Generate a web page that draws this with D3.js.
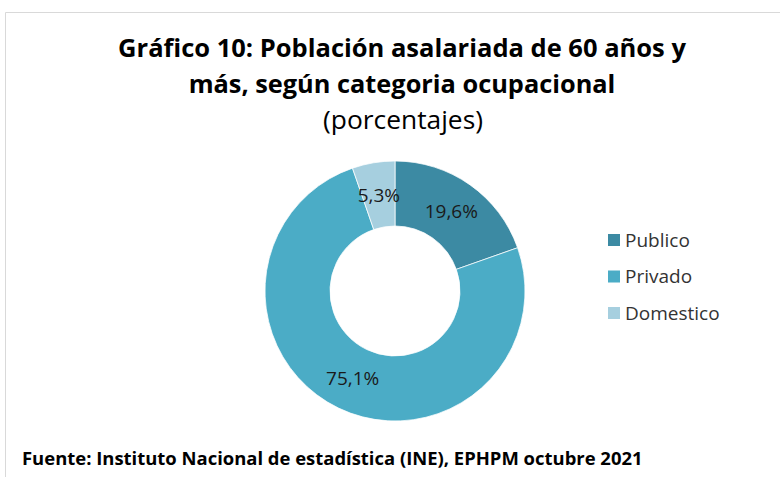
<!DOCTYPE html>
<meta charset="utf-8">
<script src="https://d3js.org/d3.v7.min.js"></script>
<style>
  body { margin: 0; background: #fff; }
  text { font-family: "Open Sans", Lato, sans-serif; }
</style>
<div id="chart"></div>
<script>
  // data
  var categories = ["Publico", "Privado", "Domestico"];
  var values = [19.6, 75.1, 5.3];
  var colors = ["#3c8aa3", "#4bacc6", "#a6cfdf"];

  var W = 780, H = 477;
  var svg = d3.select("#chart").append("svg")
    .attr("width", W).attr("height", H);

  // scale a text's font so it spans the given width
  function fit(sel, w) {
    var size = +sel.attr("font-size");
    var len = sel.node().getComputedTextLength();
    sel.attr("font-size", size * w / len);
    return sel;
  }

  // light frame
  svg.append("path")
    .attr("d", "M5.5," + H + "V12.5H" + W)
    .attr("fill", "none").attr("stroke", "#d9d9d9").attr("stroke-width", 1);

  // titles
  fit(svg.append("text").attr("x", 402).attr("y", 57)
    .attr("text-anchor", "middle").attr("font-weight", "bold")
    .attr("font-size", 24).attr("fill", "#000")
    .text("Gráfico 10: Población asalariada de 60 años y"), 568);
  fit(svg.append("text").attr("x", 402).attr("y", 93)
    .attr("text-anchor", "middle").attr("font-weight", "bold")
    .attr("font-size", 24).attr("fill", "#000")
    .text("más, según categoria ocupacional"), 427);
  fit(svg.append("text").attr("x", 403).attr("y", 129)
    .attr("text-anchor", "middle")
    .attr("font-size", 22).attr("fill", "#000")
    .text("(porcentajes)"), 160);

  // donut
  var cx = 395, cy = 291, rOut = 130, rIn = 65;
  var pie = d3.pie().sort(null).value(function (d) { return d; });
  var arc = d3.arc().innerRadius(rIn).outerRadius(rOut);
  var arcs = pie(values);

  var g = svg.append("g").attr("transform", "translate(" + cx + "," + cy + ")");
  g.selectAll("path.slice").data(arcs).enter().append("path")
    .attr("class", "slice")
    .attr("d", arc)
    .attr("fill", function (d, i) { return colors[i]; })
    .attr("stroke", "#fff").attr("stroke-width", 0.75);

  var fmt = function (v) { return v.toFixed(1).replace(".", ",") + "%"; };
  g.selectAll("text.lbl").data(arcs).enter().append("text")
    .attr("class", "lbl")
    .attr("transform", function (d) { return "translate(" + arc.centroid(d) + ")"; })
    .attr("text-anchor", "middle").attr("dy", "0.35em")
    .attr("font-size", 19).attr("fill", "#1a1a1a")
    .text(function (d) { return fmt(d.data); });

  // legend
  var legend = svg.append("g").attr("transform", "translate(608,240)");
  var item = legend.selectAll("g").data(categories).enter().append("g")
    .attr("transform", function (d, i) { return "translate(0," + (i * 36.5) + ")"; });
  item.append("rect").attr("x", 0).attr("y", -6).attr("width", 12).attr("height", 12)
    .attr("fill", function (d, i) { return colors[i]; });
  item.append("text").attr("x", 17).attr("dy", "0.35em")
    .attr("font-size", 19).attr("fill", "#333")
    .text(function (d) { return d; });

  // source
  fit(svg.append("text").attr("x", 22).attr("y", 465)
    .attr("font-weight", "bold").attr("font-size", 16).attr("fill", "#000")
    .text("Fuente: Instituto Nacional de estadística (INE), EPHPM octubre 2021"), 621);
</script>
